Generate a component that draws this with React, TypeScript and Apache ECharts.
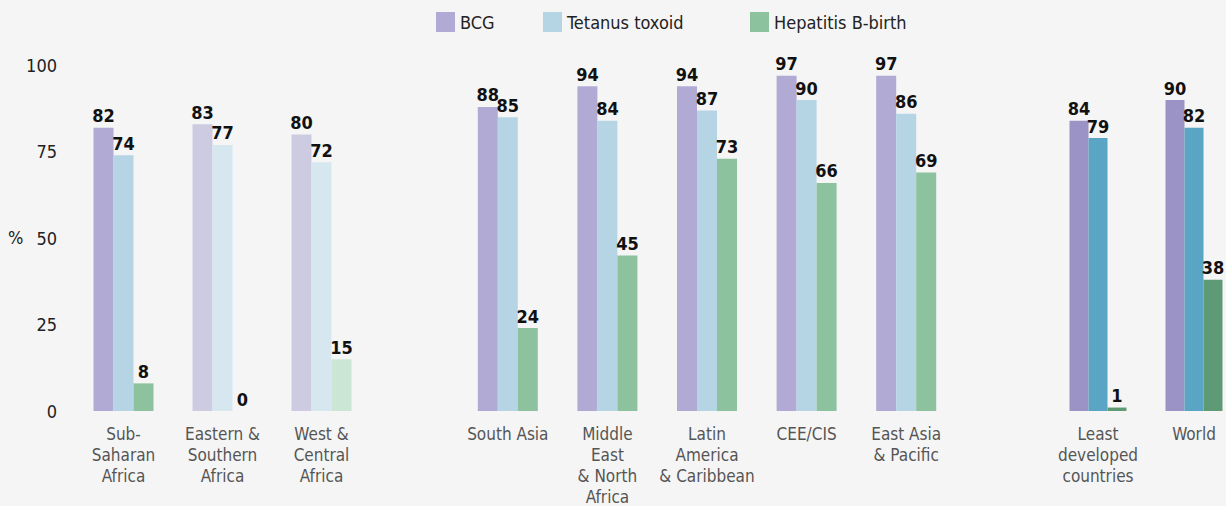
import React, { useEffect, useRef } from "react";
import * as echarts from "echarts";

const groupA = ["Sub-\nSaharan\nAfrica", "Eastern &\nSouthern\nAfrica", "West &\nCentral\nAfrica"];
const groupB = ["South Asia", "Middle\nEast\n& North\nAfrica", "Latin\nAmerica\n& Caribbean", "CEE/CIS", "East Asia\n& Pacific"];
const groupC = ["Least\ndeveloped\ncountries", "World"];

const bcgA = [82, 83, 80];
const ttA = [74, 77, 72];
const hepA = [8, 0, 15];
const bcgB = [88, 94, 94, 97, 97];
const ttB = [85, 84, 87, 90, 86];
const hepB = [24, 45, 73, 66, 69];
const bcgC = [84, 90];
const ttC = [79, 82];
const hepC = [1, 38];

const yTicks = [0, 25, 50, 75, 100];

const seriesNames = ["BCG", "Tetanus toxoid", "Hepatitis B-birth"];
const baseColors = ["#b0aad4", "#b5d5e5", "#8dc29f"];
const paleColors = ["#cdcbe2", "#d6e7ef", "#cce6d5"];
const darkColors = ["#9b93c6", "#5aa5c4", "#5f9a77"];
const paleInGroupA = [false, true, true];

const FONT = "'Liberation Sans Narrow', 'DejaVu Sans Condensed', 'Roboto Condensed', 'Arial Narrow', sans-serif";

export default function App() {
  const ref = useRef<HTMLDivElement>(null);

  useEffect(() => {
    if (!ref.current) return;
    const chart = echarts.init(ref.current, undefined, { renderer: "svg" });

    const grids = [
      { left: 74, width: 297, top: 65.5, bottom: 95, outerBoundsMode: "none" },
      { left: 458, width: 498, top: 65.5, bottom: 95, outerBoundsMode: "none" },
      { left: 1050, width: 192, top: 65.5, bottom: 95, outerBoundsMode: "none" },
    ];
    const barWidths = [20, 20, 19];
    const cats = [groupA, groupB, groupC];
    const dataSets = [
      [bcgA, ttA, hepA],
      [bcgB, ttB, hepB],
      [bcgC, ttC, hepC],
    ];

    const xAxis = cats.map((c, i) => ({
      type: "category" as const,
      gridIndex: i,
      data: c,
      axisLine: { show: false },
      axisTick: { show: false },
      axisLabel: {
        interval: 0,
        margin: 12,
        color: "#555",
        fontSize: 17,
        lineHeight: 21,
        fontFamily: FONT,
        align: "center" as const,
      },
    }));

    const yAxis = cats.map((_, i) => ({
      type: "value" as const,
      gridIndex: i,
      min: 0,
      max: 100,
      interval: 25,
      splitLine: { show: false },
      axisLine: { show: false },
      axisTick: { show: false },
      axisLabel: {
        show: i === 0,
        margin: 17,
        color: "#222",
        fontSize: 18,
        fontFamily: FONT,
        formatter: (v: number) => (yTicks.includes(v) ? String(v) : ""),
      },
    }));

    const series: any[] = [];
    dataSets.forEach((set, gi) => {
      set.forEach((vals, si) => {
        const color = gi === 2 ? darkColors[si] : baseColors[si];
        series.push({
          name: seriesNames[si],
          type: "bar",
          xAxisIndex: gi,
          yAxisIndex: gi,
          barWidth: barWidths[gi],
          barGap: "0%",
          itemStyle: { color },
          data: vals.map((v, ci) => ({
            value: v,
            itemStyle: {
              color: gi === 0 && paleInGroupA[ci] ? paleColors[si] : color,
            },
          })),
          label: {
            show: true,
            position: "top",
            distance: 3,
            color: "#111",
            fontSize: 18,
            fontWeight: "bold",
            fontFamily: FONT,
          },
        });
      });
    });

    const legendPos = [431, 538, 745];
    const legend = seriesNames.map((n, i) => ({
      data: [n],
      left: legendPos[i],
      top: 7,
      itemWidth: 19,
      itemHeight: 20,
      icon: "rect",
      textStyle: { fontSize: 18, color: "#222", fontFamily: FONT },
    }));

    chart.setOption({
      animation: false,
      backgroundColor: "#f5f5f5",
      legend,
      grid: grids,
      xAxis,
      yAxis,
      series,
      graphic: [
        {
          type: "text",
          left: 8,
          top: 228,
          style: { text: "%", fontSize: 18, fill: "#222", fontFamily: FONT },
        },
      ],
    });

    return () => chart.dispose();
  }, []);

  return (
    <div
      ref={ref}
      style={{ position: "fixed", left: 0, top: 0, width: 1226, height: 506 }}
    />
  );
}
